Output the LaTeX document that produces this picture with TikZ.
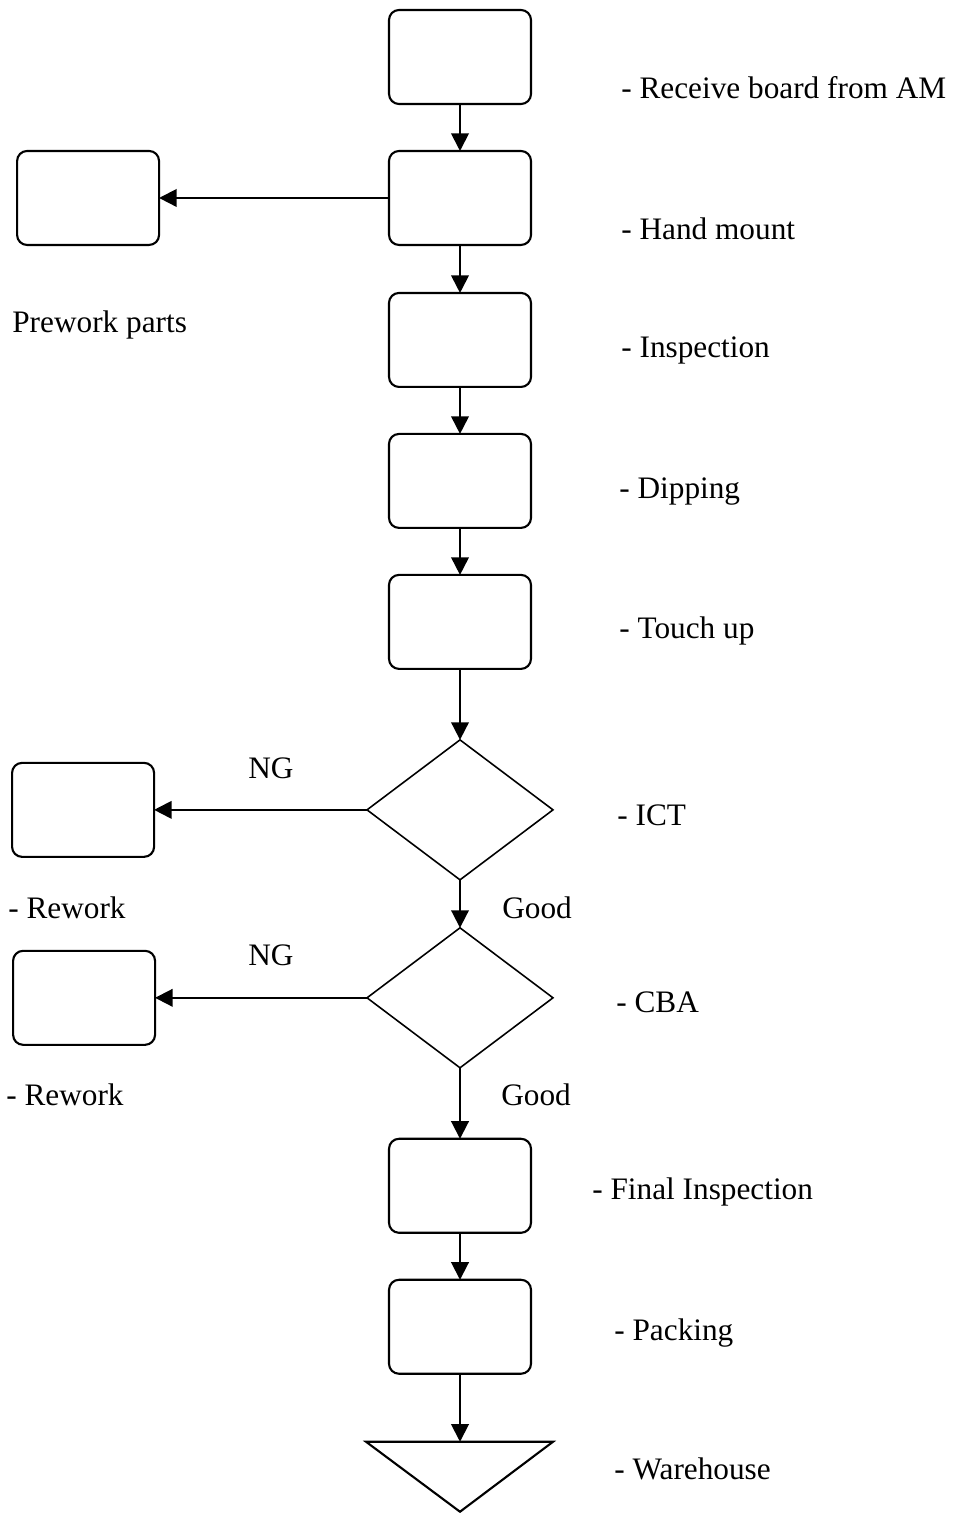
\documentclass[tikz,border=0pt]{standalone}
\usepackage{fontspec}
\setmainfont{Liberation Serif}
\usetikzlibrary{positioning,shapes.geometric,arrows.meta}

\begin{document}
\begin{tikzpicture}[x=0.02cm,y=-0.02cm,
    every node/.style={font=\fontsize{17.8}{21}\selectfont},
    stepbox/.style={draw, line width=1.2pt, rounded corners=0.2cm, outer sep=0pt,
        minimum width=2.84cm, minimum height=1.88cm, inner sep=0pt},
    check/.style={draw, diamond, line width=0.9pt, outer sep=0pt,
        minimum width=3.72cm, minimum height=2.8cm, inner sep=0pt},
    tag/.style={anchor=west, inner sep=0pt, text height=0.66em, text depth=0pt},
    flow/.style={-{Triangle[length=10pt,width=10pt]}, line width=1.1pt}]
\useasboundingbox (0,0) rectangle (955,1513);

% main line
\node[stepbox] (receive) at (460,57) {};
\node[stepbox, below = 0.94cm of receive] (mount) {};
\node[stepbox, below = 0.96cm of mount] (inspect) {};
\node[stepbox, below = 0.94cm of inspect] (dip) {};
\node[stepbox, below = 0.94cm of dip] (touch) {};
\node[check, below = 1.42cm of touch] (ict) {};
\node[check, below = 0.96cm of ict] (cba) {};
\node[stepbox, below = 1.42cm of cba] (final) {};
\node[stepbox, below = 0.94cm of final] (pack) {};
\coordinate[below = 1.36cm of pack] (store);
\draw[line width=1.2pt] (store) ++(-94,0) -- ++(187,0) -- ++(-93,70) -- cycle;

% side boxes
\node[stepbox, left = 4.6cm of mount] (prework) {};
\node[stepbox, left = 4.26cm of ict] (rework1) {};
\node[stepbox, left = 4.24cm of cba] (rework2) {};

% labels
\node[tag] (lreceive) at (621,93) {- Receive board from AM};
\node[tag] (lmount) at (621,234) {- Hand mount};
\node[tag] (lprework) at (12,327) {Prework parts};
\node[tag] (linspect) at (621,352) {- Inspection};
\node[tag] (ldip) at (619,493) {- Dipping};
\node[tag] (ltouch) at (619,633) {- Touch up};
\node[tag] (lict) at (617,820) {- ICT};
\node[tag] (lcba) at (616,1007) {- CBA};
\node[tag] (lfinal) at (592,1194) {- Final Inspection};
\node[tag] (lpack) at (614,1335) {- Packing};
\node[tag] (lstore) at (614,1474) {- Warehouse};
\node[tag] (lrework1) at (8,913) {- Rework};
\node[tag] (lrework2) at (6,1100) {- Rework};
\node[tag] (ng1) at (248,773) {NG};
\node[tag] (ng2) at (248,960) {NG};
\node[tag] (good1) at (502,913) {Good};
\node[tag] (good2) at (501,1100) {Good};

% connectors
\draw[flow] (receive) -- (mount);
\draw[flow] (mount) -- (prework);
\draw[flow] (mount) -- (inspect);
\draw[flow] (inspect) -- (dip);
\draw[flow] (dip) -- (touch);
\draw[flow] (touch) -- (ict);
\draw[flow] (ict) -- (rework1);
\draw[flow] (ict) -- (cba);
\draw[flow] (cba) -- (rework2);
\draw[flow] (cba) -- (final);
\draw[flow] (final) -- (pack);
\draw[flow] (pack) -- (store);
\end{tikzpicture}
\end{document}
